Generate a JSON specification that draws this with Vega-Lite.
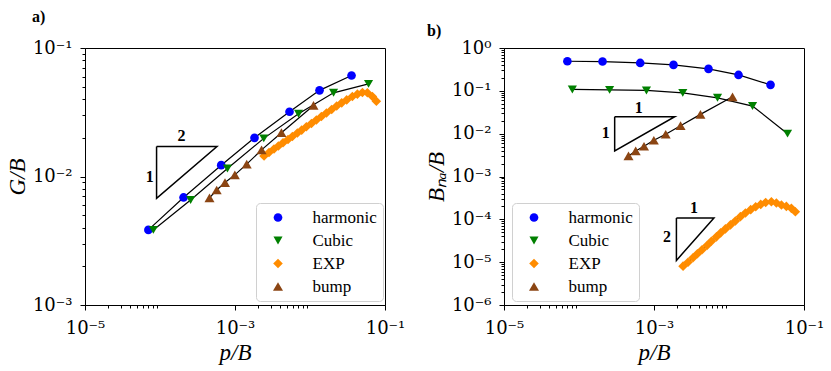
{
  "$schema": "https://vega.github.io/schema/vega-lite/v6.json",
  "padding": {"left": 5, "top": 8, "right": 5, "bottom": 5},
  "background": "white",
  "datasets": {
    "pts": [
      {"s": "harmonic", "x": 7.0e-5, "g": 3.84e-3, "b": 0.491},
      {"s": "harmonic", "x": 2.06e-4, "g": 6.87e-3, "b": 0.483},
      {"s": "harmonic", "x": 6.55e-4, "g": 1.225e-2, "b": 0.448},
      {"s": "harmonic", "x": 1.82e-3, "g": 2.0e-2, "b": 0.403},
      {"s": "harmonic", "x": 5.33e-3, "g": 3.19e-2, "b": 0.325},
      {"s": "harmonic", "x": 1.34e-2, "g": 4.68e-2, "b": 0.235},
      {"s": "harmonic", "x": 3.58e-2, "g": 6.11e-2, "b": 0.138},
      {"s": "Cubic", "x": 8.15e-5, "g": 3.84e-3, "b": 0.1076},
      {"s": "Cubic", "x": 2.56e-4, "g": 6.56e-3, "b": 0.1054},
      {"s": "Cubic", "x": 7.93e-4, "g": 1.153e-2, "b": 0.102},
      {"s": "Cubic", "x": 2.42e-3, "g": 1.98e-2, "b": 0.0898},
      {"s": "Cubic", "x": 7.03e-3, "g": 3.08e-2, "b": 0.0687},
      {"s": "Cubic", "x": 2.06e-2, "g": 4.48e-2, "b": 0.0441},
      {"s": "Cubic", "x": 6.03e-2, "g": 5.26e-2, "b": 0.0100},
      {"s": "EXP", "x": 2.44e-3, "g": 1.445e-2, "b": 8.07e-6},
      {"s": "EXP", "x": 2.84e-3, "g": 1.538e-2, "b": 1.0e-5},
      {"s": "EXP", "x": 3.31e-3, "g": 1.637e-2, "b": 1.265e-5},
      {"s": "EXP", "x": 3.79e-3, "g": 1.726e-2, "b": 1.567e-5},
      {"s": "EXP", "x": 4.37e-3, "g": 1.828e-2, "b": 1.941e-5},
      {"s": "EXP", "x": 5.09e-3, "g": 1.941e-2, "b": 2.443e-5},
      {"s": "EXP", "x": 5.82e-3, "g": 2.051e-2, "b": 3.076e-5},
      {"s": "EXP", "x": 6.79e-3, "g": 2.178e-2, "b": 3.899e-5},
      {"s": "EXP", "x": 7.75e-3, "g": 2.296e-2, "b": 4.831e-5},
      {"s": "EXP", "x": 8.95e-3, "g": 2.438e-2, "b": 5.984e-5},
      {"s": "EXP", "x": 1.045e-2, "g": 2.588e-2, "b": 7.413e-5},
      {"s": "EXP", "x": 1.216e-2, "g": 2.754e-2, "b": 9.183e-5},
      {"s": "EXP", "x": 1.419e-2, "g": 2.931e-2, "b": 1.156e-4},
      {"s": "EXP", "x": 1.656e-2, "g": 3.119e-2, "b": 1.409e-4},
      {"s": "EXP", "x": 1.945e-2, "g": 3.319e-2, "b": 1.683e-4},
      {"s": "EXP", "x": 2.27e-2, "g": 3.532e-2, "b": 1.972e-4},
      {"s": "EXP", "x": 2.648e-2, "g": 3.741e-2, "b": 2.234e-4},
      {"s": "EXP", "x": 3.083e-2, "g": 3.945e-2, "b": 2.483e-4},
      {"s": "EXP", "x": 3.673e-2, "g": 4.188e-2, "b": 2.582e-4},
      {"s": "EXP", "x": 4.285e-2, "g": 4.375e-2, "b": 2.404e-4},
      {"s": "EXP", "x": 5.0e-2, "g": 4.498e-2, "b": 2.163e-4},
      {"s": "EXP", "x": 5.82e-2, "g": 4.49e-2, "b": 2.004e-4},
      {"s": "EXP", "x": 6.79e-2, "g": 4.2e-2, "b": 1.803e-4},
      {"s": "EXP", "x": 7.67e-2, "g": 3.85e-2, "b": 1.51e-4},
      {"s": "bump", "x": 4.57e-4, "g": 6.81e-3, "b": 3.03e-3},
      {"s": "bump", "x": 5.70e-4, "g": 7.85e-3, "b": 3.96e-3},
      {"s": "bump", "x": 7.36e-4, "g": 8.97e-3, "b": 5.09e-3},
      {"s": "bump", "x": 9.95e-4, "g": 1.03e-2, "b": 7.03e-3},
      {"s": "bump", "x": 1.432e-3, "g": 1.247e-2, "b": 9.68e-3},
      {"s": "bump", "x": 2.26e-3, "g": 1.611e-2, "b": 1.535e-2},
      {"s": "bump", "x": 4.16e-3, "g": 2.193e-2, "b": 2.82e-2},
      {"s": "bump", "x": 1.114e-2, "g": 3.573e-2, "b": 7.24e-2}
    ],
    "triA": [
      {"k": 1, "o": 0, "x": 9e-5, "y": 0.0171},
      {"k": 1, "o": 1, "x": 5.75e-4, "y": 0.0171},
      {"k": 1, "o": 2, "x": 9e-5, "y": 6.75e-3},
      {"k": 1, "o": 3, "x": 9e-5, "y": 0.0171}
    ],
    "lblA": [
      {"x": 1.93e-4, "y": 0.0205, "t": "2"},
      {"x": 7.3e-5, "y": 9.84e-3, "t": "1"}
    ],
    "triB": [
      {"k": 1, "o": 0, "x": 2.99e-4, "y": 0.0248},
      {"k": 1, "o": 1, "x": 1.89e-3, "y": 0.0248},
      {"k": 1, "o": 2, "x": 2.99e-4, "y": 3.96e-3},
      {"k": 1, "o": 3, "x": 2.99e-4, "y": 0.0248},
      {"k": 2, "o": 0, "x": 1.99e-3, "y": 1.08e-4},
      {"k": 2, "o": 1, "x": 6.3e-3, "y": 1.08e-4},
      {"k": 2, "o": 2, "x": 1.99e-3, "y": 1.1e-5},
      {"k": 2, "o": 3, "x": 1.99e-3, "y": 1.08e-4}
    ],
    "lblB": [
      {"x": 6.25e-4, "y": 0.0389, "t": "1"},
      {"x": 2.27e-4, "y": 0.0102, "t": "1"},
      {"x": 3.41e-3, "y": 1.84e-4, "t": "1"},
      {"x": 1.49e-3, "y": 3.8e-5, "t": "2"}
    ]
  },
  "hconcat": [
    {
      "width": 300,
      "height": 257,
      "title": {"text": "a)", "anchor": "start", "frame": "group", "dx": -53, "offset": 14, "fontSize": 16, "fontWeight": "bold", "font": "Liberation Serif"},
      "layer": [
        {
          "data": {"name": "pts"},
          "mark": {"type": "line", "color": "black", "strokeWidth": 1.2},
          "encoding": {
            "x": {"field": "x", "type": "quantitative", "title": "p/B",
              "scale": {"type": "log", "domain": [1e-5, 0.1]},
              "axis": {"values": [1e-5, 2e-5, 3e-5, 4e-5, 5e-5, 6e-5, 7e-5, 8e-5, 9e-5, 1e-3, 2e-3, 3e-3, 4e-3, 5e-3, 6e-3, 7e-3, 8e-3, 9e-3, 0.1],
                "labelPadding": 9, "titlePadding": 4,
                "labelExpr": "abs(log(datum.value)/LN10 - round(log(datum.value)/LN10)) < 1e-6 ? '10' + (round(log(datum.value)/LN10) < 0 ? '⁻' : '') + ['⁰','¹','²','³','⁴','⁵','⁶'][abs(round(log(datum.value)/LN10))] : ''",
                "tickSize": {"condition": {"test": "abs(log(datum.value)/LN10 - round(log(datum.value)/LN10)) < 1e-6", "value": 5}, "value": 3}}},
            "y": {"field": "g", "type": "quantitative", "title": "G/B",
              "scale": {"type": "log", "domain": [1e-3, 0.1]},
              "axis": {"values": [1e-3, 2e-3, 3e-3, 4e-3, 5e-3, 6e-3, 7e-3, 8e-3, 9e-3, 1e-2, 2e-2, 3e-2, 4e-2, 5e-2, 6e-2, 7e-2, 8e-2, 9e-2, 0.1],
                "labelPadding": 8, "titlePadding": 3,
                "labelExpr": "abs(log(datum.value)/LN10 - round(log(datum.value)/LN10)) < 1e-6 ? '10' + (round(log(datum.value)/LN10) < 0 ? '⁻' : '') + ['⁰','¹','²','³','⁴','⁵','⁶'][abs(round(log(datum.value)/LN10))] : ''",
                "tickSize": {"condition": {"test": "abs(log(datum.value)/LN10 - round(log(datum.value)/LN10)) < 1e-6", "value": 5}, "value": 3}}},
            "detail": {"field": "s"}
          }
        },
        {
          "data": {"name": "pts"},
          "mark": {"type": "point", "filled": true, "opacity": 1},
          "encoding": {
            "x": {"field": "x", "type": "quantitative", "title": "p/B", "scale": {"type": "log", "domain": [1e-5, 0.1]}},
            "y": {"field": "g", "type": "quantitative", "title": "G/B", "scale": {"type": "log", "domain": [1e-3, 0.1]}},
            "color": {"field": "s", "type": "nominal", "title": null,
              "scale": {"domain": ["harmonic", "Cubic", "EXP", "bump"], "range": ["#0000ff", "#008000", "#ff8c00", "#8b4513"]},
              "legend": {"orient": "none", "legendX": 171, "legendY": 155}},
            "shape": {"field": "s", "type": "nominal", "title": null,
              "scale": {"domain": ["harmonic", "Cubic", "EXP", "bump"], "range": ["circle", "triangle-down", "diamond", "triangle-up"]},
              "legend": {"orient": "none", "legendX": 171, "legendY": 155}},
            "size": {"field": "s", "type": "nominal", "legend": null,
              "scale": {"domain": ["harmonic", "Cubic", "EXP", "bump"], "range": [75, 100, 45, 100]}}
          }
        },
        {
          "data": {"name": "triA"},
          "mark": {"type": "line", "color": "black", "strokeWidth": 1.5, "strokeJoin": "miter"},
          "encoding": {
            "x": {"field": "x", "type": "quantitative", "title": "p/B", "scale": {"type": "log", "domain": [1e-5, 0.1]}},
            "y": {"field": "y", "type": "quantitative", "title": "G/B", "scale": {"type": "log", "domain": [1e-3, 0.1]}},
            "detail": {"field": "k"},
            "order": {"field": "o"}
          }
        },
        {
          "data": {"name": "lblA"},
          "mark": {"type": "text", "fontSize": 16, "fontWeight": "bold", "font": "Liberation Serif", "color": "black"},
          "encoding": {
            "x": {"field": "x", "type": "quantitative", "title": "p/B", "scale": {"type": "log", "domain": [1e-5, 0.1]}},
            "y": {"field": "y", "type": "quantitative", "title": "G/B", "scale": {"type": "log", "domain": [1e-3, 0.1]}},
            "text": {"field": "t"}
          }
        }
      ]
    },
    {
      "width": 300,
      "height": 257,
      "title": {"text": "b)", "anchor": "start", "frame": "group", "dx": -77, "offset": 0, "fontSize": 16, "fontWeight": "bold", "font": "Liberation Serif"},
      "layer": [
        {
          "data": {"name": "pts"},
          "mark": {"type": "line", "color": "black", "strokeWidth": 1.2},
          "encoding": {
            "x": {"field": "x", "type": "quantitative", "title": "p/B",
              "scale": {"type": "log", "domain": [1e-5, 0.1]},
              "axis": {"values": [1e-5, 2e-5, 3e-5, 4e-5, 5e-5, 6e-5, 7e-5, 8e-5, 9e-5, 1e-3, 2e-3, 3e-3, 4e-3, 5e-3, 6e-3, 7e-3, 8e-3, 9e-3, 0.1],
                "labelPadding": 9, "titlePadding": 4,
                "labelExpr": "abs(log(datum.value)/LN10 - round(log(datum.value)/LN10)) < 1e-6 ? '10' + (round(log(datum.value)/LN10) < 0 ? '⁻' : '') + ['⁰','¹','²','³','⁴','⁵','⁶'][abs(round(log(datum.value)/LN10))] : ''",
                "tickSize": {"condition": {"test": "abs(log(datum.value)/LN10 - round(log(datum.value)/LN10)) < 1e-6", "value": 5}, "value": 3}}},
            "y": {"field": "b", "type": "quantitative", "title": "Bₙₐ/B",
              "scale": {"type": "log", "domain": [1e-6, 1]},
              "axis": {"values": [1e-6, 2e-6, 3e-6, 4e-6, 5e-6, 6e-6, 7e-6, 8e-6, 9e-6, 1e-5, 2e-5, 3e-5, 4e-5, 5e-5, 6e-5, 7e-5, 8e-5, 9e-5, 1e-4, 2e-4, 3e-4, 4e-4, 5e-4, 6e-4, 7e-4, 8e-4, 9e-4, 1e-3, 2e-3, 3e-3, 4e-3, 5e-3, 6e-3, 7e-3, 8e-3, 9e-3, 1e-2, 2e-2, 3e-2, 4e-2, 5e-2, 6e-2, 7e-2, 8e-2, 9e-2, 0.1, 0.2, 0.3, 0.4, 0.5, 0.6, 0.7, 0.8, 0.9, 1],
                "labelPadding": 8, "titlePadding": 3,
                "labelExpr": "abs(log(datum.value)/LN10 - round(log(datum.value)/LN10)) < 1e-6 ? '10' + (round(log(datum.value)/LN10) < 0 ? '⁻' : '') + ['⁰','¹','²','³','⁴','⁵','⁶'][abs(round(log(datum.value)/LN10))] : ''",
                "tickSize": {"condition": {"test": "abs(log(datum.value)/LN10 - round(log(datum.value)/LN10)) < 1e-6", "value": 5}, "value": 3}}},
            "detail": {"field": "s"}
          }
        },
        {
          "data": {"name": "pts"},
          "mark": {"type": "point", "filled": true, "opacity": 1},
          "encoding": {
            "x": {"field": "x", "type": "quantitative", "title": "p/B", "scale": {"type": "log", "domain": [1e-5, 0.1]}},
            "y": {"field": "b", "type": "quantitative", "title": "Bₙₐ/B", "scale": {"type": "log", "domain": [1e-6, 1]}},
            "color": {"field": "s", "type": "nominal", "title": null,
              "scale": {"domain": ["harmonic", "Cubic", "EXP", "bump"], "range": ["#0000ff", "#008000", "#ff8c00", "#8b4513"]},
              "legend": {"orient": "none", "legendX": 8, "legendY": 155}},
            "shape": {"field": "s", "type": "nominal", "title": null,
              "scale": {"domain": ["harmonic", "Cubic", "EXP", "bump"], "range": ["circle", "triangle-down", "diamond", "triangle-up"]},
              "legend": {"orient": "none", "legendX": 8, "legendY": 155}},
            "size": {"field": "s", "type": "nominal", "legend": null,
              "scale": {"domain": ["harmonic", "Cubic", "EXP", "bump"], "range": [75, 100, 45, 100]}}
          }
        },
        {
          "data": {"name": "triB"},
          "mark": {"type": "line", "color": "black", "strokeWidth": 1.5, "strokeJoin": "miter"},
          "encoding": {
            "x": {"field": "x", "type": "quantitative", "title": "p/B", "scale": {"type": "log", "domain": [1e-5, 0.1]}},
            "y": {"field": "y", "type": "quantitative", "title": "Bₙₐ/B", "scale": {"type": "log", "domain": [1e-6, 1]}},
            "detail": {"field": "k"},
            "order": {"field": "o"}
          }
        },
        {
          "data": {"name": "lblB"},
          "mark": {"type": "text", "fontSize": 16, "fontWeight": "bold", "font": "Liberation Serif", "color": "black"},
          "encoding": {
            "x": {"field": "x", "type": "quantitative", "title": "p/B", "scale": {"type": "log", "domain": [1e-5, 0.1]}},
            "y": {"field": "y", "type": "quantitative", "title": "Bₙₐ/B", "scale": {"type": "log", "domain": [1e-6, 1]}},
            "text": {"field": "t"}
          }
        }
      ]
    }
  ],
  "spacing": 119,
  "bounds": "flush",
  "resolve": {
    "scale": {"color": "independent", "shape": "independent", "size": "independent"},
    "legend": {"color": "independent", "shape": "independent"}
  },
  "config": {
    "font": "Liberation Serif",
    "view": {"stroke": "black", "strokeWidth": 1},
    "axis": {
      "grid": false, "domainColor": "black", "tickColor": "black", "labelColor": "black", "titleColor": "black",
      "labelFont": "DejaVu Serif", "labelFontSize": 18, "titleFont": "Liberation Serif", "titleFontSize": 23,
      "titleFontStyle": "italic", "titleFontWeight": "normal", "labelOverlap": false, "labelFlush": false
    },
    "legend": {
      "labelFont": "Liberation Serif", "labelFontSize": 17, "labelColor": "black",
      "symbolSize": 75, "symbolStrokeWidth": 0, "padding": 6, "rowPadding": 5,
      "symbolOffset": 7.5, "labelOffset": 26, "strokeColor": "#d0d0d0", "cornerRadius": 4, "fillColor": "white"
    }
  }
}
